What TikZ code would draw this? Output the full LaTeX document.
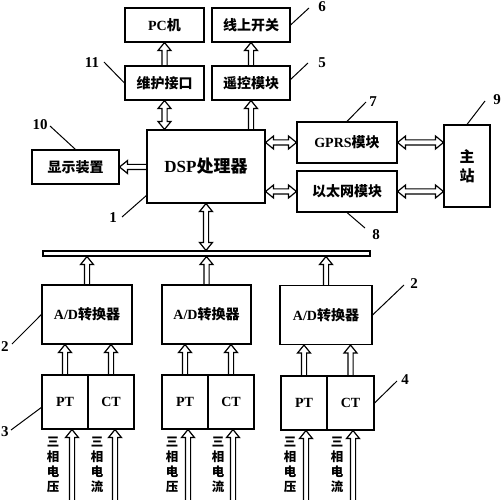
\documentclass[tikz,border=0pt]{standalone}
\usepackage{fontspec}
\setmainfont{Liberation Serif}
\newfontfamily\cjk{Noto Sans CJK SC}
\usetikzlibrary{calc}
\newcommand\zh[1]{{\cjk\bfseries #1}}
\def\aw{2.6pt}\def\aH{6.5pt}\def\ah{8pt}
\tikzset{
  box/.style={draw, line width=1.1pt, inner sep=0pt, font=\fontsize{14}{16}\selectfont\bfseries},
  arr/.style={draw, line width=1.2pt, line join=miter},
  lead/.style={line width=1pt},
  num/.style={font=\fontsize{15}{15}\selectfont\bfseries, inner sep=0pt},
  vtxt/.style={align=center, inner sep=0pt, font=\fontsize{12.5}{15}\selectfont\cjk\bfseries}
}
% up arrow: #1 tail (below), #2 tip (above)
\newcommand\arrU[2]{\path[arr] let \p1=(#1), \p2=(#2) in
  (\x1-\aw,\y1) -- (\x1-\aw,\y2-\ah) -- (\x1-\aH,\y2-\ah) -- (\x1,\y2)
  -- (\x1+\aH,\y2-\ah) -- (\x1+\aw,\y2-\ah) -- (\x1+\aw,\y1);}
% left arrow: #1 tail (right), #2 tip (left)
\newcommand\arrL[2]{\path[arr] let \p1=(#1), \p2=(#2) in
  (\x1,\y1+\aw) -- (\x2+\ah,\y1+\aw) -- (\x2+\ah,\y1+\aH) -- (\x2,\y1)
  -- (\x2+\ah,\y1-\aH) -- (\x2+\ah,\y1-\aw) -- (\x1,\y1-\aw);}
% horizontal double arrow: #1 left end, #2 right end
\newcommand\arrH[2]{\path[arr] let \p1=(#1), \p2=(#2) in
  (\x1+\ah,\y1+\aw) -- (\x2-\ah,\y1+\aw) -- (\x2-\ah,\y1+\aH) -- (\x2,\y1)
  -- (\x2-\ah,\y1-\aH) -- (\x2-\ah,\y1-\aw) -- (\x1+\ah,\y1-\aw)
  -- (\x1+\ah,\y1-\aH) -- (\x1,\y1) -- (\x1+\ah,\y1+\aH) -- cycle;}
% vertical double arrow: #1 lower end, #2 upper end
\newcommand\arrV[2]{\path[arr] let \p1=(#1), \p2=(#2) in
  (\x1-\aw,\y1+\ah) -- (\x1-\aw,\y2-\ah) -- (\x1-\aH,\y2-\ah) -- (\x1,\y2)
  -- (\x1+\aH,\y2-\ah) -- (\x1+\aw,\y2-\ah) -- (\x1+\aw,\y1+\ah)
  -- (\x1+\aH,\y1+\ah) -- (\x1,\y1) -- (\x1-\aH,\y1+\ah) -- cycle;}
\begin{document}
\begin{tikzpicture}[x=1pt,y=-1pt]
\useasboundingbox (0,0) rectangle (501,500);
% boxes
\node[box, minimum width=79, minimum height=34] (pc) at (164.5,25) {PC\zh{机}};
\node[box, minimum width=78, minimum height=34] (sw) at (251,25) {\zh{线上开关}};
\node[box, minimum width=79, minimum height=34] (wh) at (164.5,83) {\zh{维护接口}};
\node[box, minimum width=78, minimum height=34] (yk) at (251,83) {\zh{遥控模块}};
\node[box, minimum width=118, minimum height=73, font=\fontsize{17}{19}\selectfont\bfseries] (dsp) at (206,166.5) {DSP\zh{处理器}};
\node[box, minimum width=87, minimum height=34] (disp) at (75.5,167) {\zh{显示装置}};
\node[box, minimum width=100, minimum height=41] (gprs) at (347,142.5) {GPRS\zh{模块}};
\node[box, minimum width=100, minimum height=41] (eth) at (347,191.5) {\zh{以太网模块}};
\node[box, minimum width=46, minimum height=82, align=center, font=\fontsize{15}{19}\selectfont\bfseries] (zz) at (467,166) {\zh{主}\\\zh{站}};
\node[box, minimum width=327, minimum height=5] (bus) at (206.5,253.5) {};
\node[box, minimum width=90, minimum height=59] (ad1) at (87,314.5) {A/D\zh{转换器}};
\node[box, minimum width=89, minimum height=59] (ad2) at (206.5,314.5) {A/D\zh{转换器}};
\node[box, minimum width=92, minimum height=59] (ad3) at (326,315) {A/D\zh{转换器}};
\node[box, minimum width=46, minimum height=54] (pt1) at (65,402) {PT};
\node[box, minimum width=46, minimum height=54] (ct1) at (111,402) {CT};
\node[box, minimum width=46, minimum height=54] (pt2) at (185,402) {PT};
\node[box, minimum width=46, minimum height=54] (ct2) at (231,402) {CT};
\node[box, minimum width=46, minimum height=54] (pt3) at (304,403) {PT};
\node[box, minimum width=47, minimum height=54] (ct3) at (350.5,403) {CT};
% arrows top
\arrU{wh.north}{pc.south}
\arrU{yk.north}{sw.south}
\arrV{wh.south |- dsp.north}{wh.south}
\arrU{yk.south |- dsp.north}{yk.south}
\arrL{dsp.west |- disp.east}{disp.east}
\arrH{dsp.east |- gprs.west}{gprs.west}
\arrH{gprs.east}{gprs.east -| zz.west}
\arrH{dsp.east |- eth.west}{eth.west}
\arrH{eth.east}{eth.east -| zz.west}
\arrV{dsp.south |- bus.north}{dsp.south}
% A/D to bus
\arrU{ad1.north}{ad1.north |- bus.south}
\arrU{ad2.north}{ad2.north |- bus.south}
\arrU{ad3.north}{ad3.north |- bus.south}
% PT/CT to A/D
\arrU{pt1.north}{pt1.north |- ad1.south}
\arrU{ct1.north}{ct1.north |- ad1.south}
\arrU{pt2.north}{pt2.north |- ad2.south}
\arrU{ct2.north}{ct2.north |- ad2.south}
\arrU{pt3.north}{pt3.north |- ad3.south}
\arrU{ct3.north}{ct3.north |- ad3.south}
% inputs
\coordinate (i1) at (72,502);
\coordinate (i2) at (115,502);
\coordinate (i3) at (188,502);
\coordinate (i4) at (233,502);
\coordinate (i5) at (306,502);
\coordinate (i6) at (353,502);
\arrU{i1}{i1 |- pt1.south}
\arrU{i2}{i2 |- ct1.south}
\arrU{i3}{i3 |- pt2.south}
\arrU{i4}{i4 |- ct2.south}
\arrU{i5}{i5 |- pt3.south}
\arrU{i6}{i6 |- ct3.south}
\node[vtxt] (v1) at (53,464.5) {三\\相\\电\\压};
\node[vtxt] (v2) at (97,464.5) {三\\相\\电\\流};
\node[vtxt] (v3) at (172,464.5) {三\\相\\电\\压};
\node[vtxt] (v4) at (218,464.5) {三\\相\\电\\流};
\node[vtxt] (v5) at (290,464.5) {三\\相\\电\\压};
\node[vtxt] (v6) at (337,464.5) {三\\相\\电\\流};
% number labels
\node[num] (n6) at (322,7) {6};
\draw[lead] (sw.east) -- (309,8);
\node[num] (n5) at (322,63) {5};
\draw[lead] (290,80) -- (308,63);
\node[num] (n7) at (373,102) {7};
\draw[lead] (gprs.north) -- (366,102);
\node[num] (n9) at (497,100) {9};
\draw[lead] (zz.north) -- (485,101);
\node[num] (n8) at (376,235) {8};
\draw[lead] (eth.south) -- (365,228);
\node[num] (n11) at (92,63) {11};
\draw[lead] (104,62) -- (wh.west);
\node[num] (n10) at (40,125) {10};
\draw[lead] (50,126) -- (disp.north);
\node[num] (n1) at (113,218) {1};
\draw[lead] (122,217) -- (147,195);
\node[num] (n2a) at (5,347) {2};
\draw[lead] (12,344) -- (ad1.west);
\node[num] (n2b) at (414,284) {2};
\draw[lead] (ad3.east) -- (404,285);
\node[num] (n3) at (5,432) {3};
\draw[lead] (11,430) -- (42,407);
\node[num] (n4) at (405,380) {4};
\draw[lead] (ct3.east) -- (397,381);
\end{tikzpicture}
\end{document}
